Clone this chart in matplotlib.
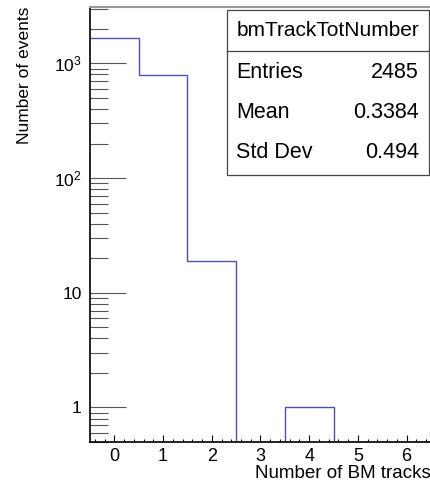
import numpy as np
import matplotlib
matplotlib.use("Agg")
import matplotlib.pyplot as plt
from matplotlib.ticker import FixedLocator, FixedFormatter, LogLocator, NullFormatter

plt.rcParams['font.family'] = ['Liberation Sans', 'DejaVu Sans']
plt.rcParams['mathtext.fontset'] = 'custom'
plt.rcParams['mathtext.rm'] = 'Liberation Sans'
plt.rcParams['mathtext.it'] = 'Liberation Sans'

# histogram data
bin_edges = np.arange(-0.5, 7.0, 1.0)
counts = np.array([1666, 799, 19, 0, 1, 0, 0])
y_ticks = [1, 10, 100, 1000]
y_tick_labels = ['1', '10', r'$10^2$', r'$10^3$']
x_ticks = [0, 1, 2, 3, 4, 5, 6]

hist_name = "bmTrackTotNumber"
stat_names = ["Entries", "Mean", "Std Dev"]
stat_values = ["2485", "0.3384", "0.494"]

ymin, ymax = 0.5, 3100

fig = plt.figure(figsize=(4.31, 4.84), dpi=100)
ax = fig.add_axes([90 / 431, 1 - 442 / 484, 1 - 90 / 431, 435 / 484])

# zero bins are drawn along the bottom edge, like ROOT does
draw_counts = np.where(counts > 0, counts, ymin)
ax.stairs(draw_counts, bin_edges, color='#4f4fae', linewidth=1.0, baseline=None)

ax.set_yscale('log')
ax.set_xlim(-0.5, 6.5)
ax.set_ylim(ymin, ymax)

ax.yaxis.set_major_locator(FixedLocator(y_ticks))
ax.yaxis.set_major_formatter(FixedFormatter(y_tick_labels))
ax.yaxis.set_minor_locator(LogLocator(base=10, subs=np.arange(2, 10), numticks=20))
ax.yaxis.set_minor_formatter(NullFormatter())
ax.set_xticks(x_ticks)
ax.xaxis.set_minor_locator(FixedLocator(np.arange(-0.4, 6.5, 0.2)))

ax.tick_params(axis='y', which='major', direction='in', length=26, width=0.8,
               labelsize=12.5, pad=6, color='#555555')
ax.tick_params(axis='y', which='minor', direction='in', length=13, width=0.8,
               color='#555555')
ax.tick_params(axis='x', which='major', direction='in', length=5, width=0.8,
               labelsize=13, pad=4)
ax.tick_params(axis='x', which='minor', direction='in', length=2.5, width=0.8)

ax.spines['right'].set_visible(False)
ax.spines['top'].set_color('#999999')
ax.spines['top'].set_linewidth(1.5)
ax.spines['left'].set_linewidth(1.2)
ax.spines['bottom'].set_linewidth(1.2)

fig.text(25 / 431, 1 - 7 / 484, "Number of events", rotation=90,
         ha='center', va='top', fontsize=12.5)
fig.text(1.0, 1 - 474 / 484, "Number of BM tracks", ha='right', va='center',
         fontsize=13.5)

# stats box
bx0, bx1 = 227 / 431, 429 / 431
by0, by1 = 1 - 175 / 484, 1 - 10 / 484
box = plt.Rectangle((bx0, by0), bx1 - bx0, by1 - by0, transform=fig.transFigure,
                    facecolor='white', edgecolor='#444444', linewidth=0.9, zorder=5)
fig.add_artist(box)
sep_y = 1 - 51 / 484
fig.add_artist(plt.Line2D([bx0, bx1], [sep_y, sep_y], transform=fig.transFigure,
                          color='#444444', linewidth=0.9, zorder=6))
fig.text((bx0 + bx1) / 2, 1 - 31 / 484, hist_name, ha='center', va='center',
         fontsize=15, zorder=7)
for i, (name, val) in enumerate(zip(stat_names, stat_values)):
    yy = 1 - (73 + 40 * i) / 484
    fig.text(236 / 431, yy, name, ha='left', va='center', fontsize=15.5, zorder=7)
    fig.text(419 / 431, yy, val, ha='right', va='center', fontsize=15.5, zorder=7)

fig.savefig("out.png", dpi=100)
